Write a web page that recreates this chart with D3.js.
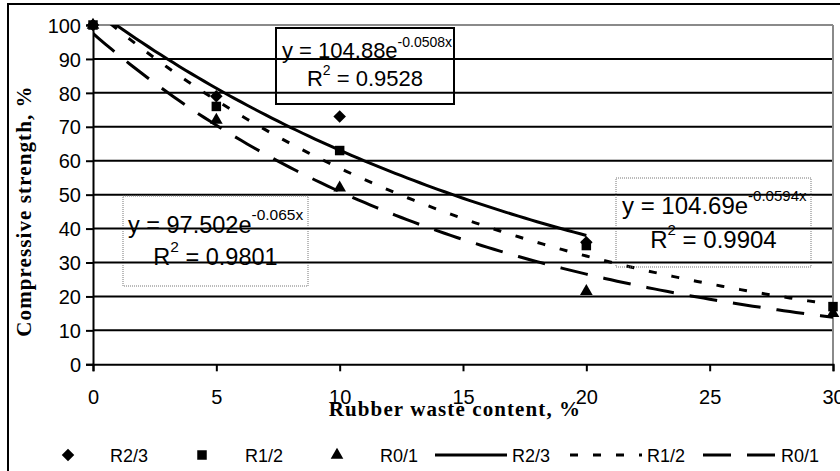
<!DOCTYPE html>
<html><head><meta charset="utf-8">
<script src="https://cdn.jsdelivr.net/npm/d3@7"></script>
<style>body{margin:0;background:#fff}</style>
</head><body><svg id="c" width="840" height="471"></svg>
<script>
const xTicks=[0,5,10,15,20,25,30];
const yTicks=[0,10,20,30,40,50,60,70,80,90,100];
const seriesNames=["R2/3","R1/2","R0/1"];
const xR23=[0,5,10,20];     const yR23=[100,79,73,36];
const xR12=[0,5,10,20,30];  const yR12=[100,76,63,35,17];
const xR01=[0,5,10,20,30];  const yR01=[100,72,52,21.5,15];
const trendA=[104.88,104.69,97.502];
const trendB=[-0.0508,-0.0594,-0.065];
const trendR2=["0.9528","0.9904","0.9801"];
const trendXmax=[20,30,30];

const svg=d3.select("#c");
const x=d3.scaleLinear().domain([0,30]).range([93,833]);
const y=d3.scaleLinear().domain([0,100]).range([364.3,25]);
const SANS="Liberation Sans, Arial, sans-serif";
const SERIF="Liberation Serif, Times New Roman, serif";

// outer frame
svg.append("rect").attr("x",8).attr("y",4).attr("width",900).attr("height",600)
  .attr("fill","none").attr("stroke","#000").attr("stroke-width",2);

// gridlines
svg.append("g").selectAll("line").data(yTicks.filter(d=>d>0&&d<100)).join("line")
  .attr("x1",x(0)).attr("x2",x(30)).attr("y1",d=>y(d)).attr("y2",d=>y(d))
  .attr("stroke","#000").attr("stroke-width",2);
svg.append("line").attr("x1",x(0)).attr("x2",x(30)).attr("y1",y(100)).attr("y2",y(100))
  .attr("stroke","#8a8a8a").attr("stroke-width",2);
svg.append("line").attr("x1",x(30)).attr("x2",x(30)).attr("y1",y(100)).attr("y2",y(0))
  .attr("stroke","#8a8a8a").attr("stroke-width",2);

// axes
const xa=svg.append("g").attr("transform",`translate(0,${y(0)})`)
  .call(d3.axisBottom(x).tickValues(xTicks).tickSize(7).tickPadding(19).tickFormat(d3.format("d")));
const ya=svg.append("g").attr("transform",`translate(${x(0)},0)`)
  .call(d3.axisLeft(y).tickValues(yTicks).tickSize(7).tickPadding(5).tickFormat(d3.format("d")));
[xa,ya].forEach(a=>{
  a.select(".domain").attr("stroke","#000").attr("stroke-width",2);
  a.selectAll(".tick line").attr("stroke","#000").attr("stroke-width",2);
  a.selectAll("text").attr("font-family",SANS).attr("font-size",20).attr("fill","#000");
});
ya.selectAll("text").attr("dy","0.36em");

// axis titles
svg.append("text").attr("x",455).attr("y",416).attr("text-anchor","middle")
  .attr("font-family",SERIF).attr("font-weight","bold")
  .attr("font-size",21).attr("letter-spacing",1.1).text("Rubber waste content, %");
svg.append("text").attr("transform","translate(31,211) rotate(-90)").attr("text-anchor","middle")
  .attr("font-family",SERIF).attr("font-weight","bold")
  .attr("font-size",21).attr("letter-spacing",1.1).text("Compressive strength, %");

// clip
svg.append("clipPath").attr("id","pc").append("rect")
  .attr("x",x(0)).attr("y",y(100)).attr("width",x(30)-x(0)).attr("height",y(0)-y(100));

// trendlines
const dashes=[null,"8,15","28,16"];
const tl=svg.append("g").attr("clip-path","url(#pc)");
trendA.forEach((a,i)=>{
  const pts=d3.range(0,trendXmax[i]+0.001,0.25).map(v=>[v,a*Math.exp(trendB[i]*v)]);
  tl.append("path").datum(pts)
    .attr("d",d3.line().x(d=>x(d[0])).y(d=>y(d[1])))
    .attr("fill","none").attr("stroke","#000").attr("stroke-width",3)
    .attr("stroke-dasharray",dashes[i]);
});

// markers
const sym=[d3.symbolDiamond2,d3.symbolSquare2,d3.symbolTriangle2];
const sizes=[100,115,115];
const series=[[xR23,yR23],[xR12,yR12],[xR01,yR01]];
series.forEach((s,i)=>{
  svg.append("g").selectAll("path").data(s[0].map((v,j)=>[v,s[1][j]])).join("path")
    .attr("transform",d=>`translate(${x(d[0])},${y(d[1])})`)
    .attr("d",d3.symbol().type(sym[i]).size(sizes[i])).attr("fill","#000");
});

// equation boxes
const boxes=[
  {i:0,x:276,y:28,w:178,h:76,stroke:"#000",dash:null,fs:22,ss:14,sd:-11,tx:282,b1:58,b2:86},
  {i:1,x:616,y:178,w:195,h:89,stroke:"#777",dash:"1,1",fs:24,ss:15,sd:-13,tx:622,b1:214,b2:248},
  {i:2,x:123,y:196,w:185,h:90,stroke:"#777",dash:"1,1",fs:23.5,ss:15.5,sd:-13,tx:128,b1:233,b2:265}
];
boxes.forEach(b=>{
  svg.append("rect").attr("x",b.x).attr("y",b.y).attr("width",b.w).attr("height",b.h)
    .attr("fill","none").attr("stroke",b.stroke).attr("stroke-width",b.dash?1:2).attr("stroke-dasharray",b.dash);
  const t=svg.append("text").attr("x",b.tx).attr("y",b.b1)
    .attr("font-family",SANS).attr("font-size",b.fs);
  t.append("tspan").text(`y = ${trendA[b.i]}e`);
  t.append("tspan").attr("font-size",b.ss).attr("dy",b.sd).text(`${trendB[b.i]}x`);
  const r=svg.append("text").attr("x",b.x+b.w/2).attr("y",b.b2).attr("text-anchor","middle")
    .attr("font-family",SANS).attr("font-size",b.fs);
  r.append("tspan").text("R");
  r.append("tspan").attr("font-size",b.ss).attr("dy",b.sd).text("2");
  r.append("tspan").attr("dy",-b.sd).text(` = ${trendR2[b.i]}`);
});

// legend
const lg=svg.append("g").attr("font-family",SANS).attr("font-size",18);
const ly=455;
const mx=[68,202,337];
const mt=[110,245,380];
seriesNames.forEach((n,i)=>{
  lg.append("path").attr("transform",`translate(${mx[i]},${ly})`)
    .attr("d",d3.symbol().type(sym[i]).size(sizes[i])).attr("fill","#000");
  lg.append("text").attr("x",mt[i]).attr("y",ly+6.5).text(n);
});
const lx=[[435,507],[570,642],[703,775]];
const lt=[512,647,781];
seriesNames.forEach((n,i)=>{
  lg.append("line").attr("x1",lx[i][0]).attr("x2",lx[i][1]).attr("y1",ly).attr("y2",ly)
    .attr("stroke","#000").attr("stroke-width",3).attr("stroke-dasharray",dashes[i]);
  lg.append("text").attr("x",lt[i]).attr("y",ly+6.5).text(n);
});
</script></body></html>
